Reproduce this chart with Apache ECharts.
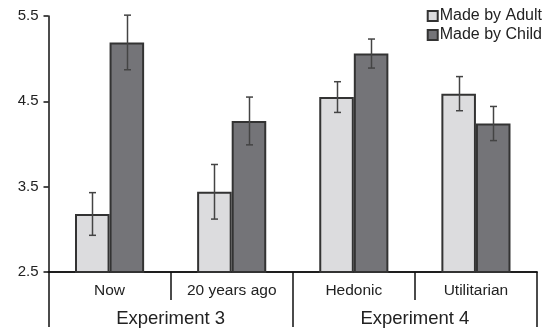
<!DOCTYPE html>
<html>
<head>
<meta charset="utf-8">
<script src="https://cdn.jsdelivr.net/npm/echarts@6/dist/echarts.min.js"></script>
<style>
html,body{margin:0;padding:0;background:#fff;}
#c{width:554px;height:330px;}
</style>
</head>
<body>
<div id="c"></div>
<script>
const categories = ['Now', '20 years ago', 'Hedonic', 'Utilitarian'];
const experiments = ['Experiment 3', 'Experiment 4'];
const adultMean = [3.18, 3.44, 4.55, 4.59];
const adultErr = [0.25, 0.32, 0.18, 0.20];
const childMean = [5.19, 4.27, 5.06, 4.24];
const childErr = [0.32, 0.28, 0.17, 0.20];
const yTicks = [2.5, 3.5, 4.5, 5.5];

const GAP = 0.434;
const FONT = '"Liberation Sans", Arial, Helvetica, sans-serif';

function errData(mean, err) {
  return mean.map((m, i) => [i, m, err[i]]);
}
function errRender(side) {
  return function (params, api) {
    const i = api.value(0), m = api.value(1), e = api.value(2);
    const band = api.size([1, 0])[0];
    const bw = band * (1 - GAP) / 2;
    const top = api.coord([i, m + e]);
    const bot = api.coord([i, m - e]);
    const x = Math.round(top[0] + side * bw / 2) + 0.5;
    const cap = 3.5;
    const st = { stroke: '#444', lineWidth: 1.5 };
    return {
      type: 'group',
      children: [
        { type: 'line', shape: { x1: x, y1: top[1], x2: x, y2: bot[1] }, style: st },
        { type: 'line', shape: { x1: x - cap, y1: top[1], x2: x + cap, y2: top[1] }, style: st },
        { type: 'line', shape: { x1: x - cap, y1: bot[1], x2: x + cap, y2: bot[1] }, style: st }
      ]
    };
  };
}

const chart = echarts.init(document.getElementById('c'), null, { renderer: 'canvas' });
chart.setOption({
  animation: false,
  textStyle: { fontFamily: FONT },
  grid: { left: 48.5, right: 17, top: 16, bottom: 58, containLabel: false },
  legend: {
    data: ['Made by Adult', 'Made by Child'],
    orient: 'vertical',
    right: 7,
    top: 3,
    itemWidth: 10,
    itemHeight: 10,
    itemGap: 3,
    icon: 'rect',
    textStyle: { fontSize: 16, color: '#222', fontFamily: FONT, padding: [0, 0, 0, -3] }
  },
  xAxis: [
    {
      type: 'category',
      data: categories,
      position: 'bottom',
      axisLine: { show: true, onZero: false, lineStyle: { color: '#111', width: 1.5 } },
      axisTick: { show: true, length: 28, lineStyle: { color: '#111', width: 1.5 } },
      axisLabel: { fontSize: 15.5, color: '#222', margin: 11, fontFamily: FONT },
      splitLine: { show: false }
    },
    {
      type: 'category',
      data: experiments,
      position: 'bottom',
      offset: 0,
      axisLine: { show: true, onZero: false, lineStyle: { color: '#111', width: 1.5 } },
      axisTick: { show: true, length: 55, lineStyle: { color: '#111', width: 1.5 } },
      axisLabel: { fontSize: 18.5, color: '#222', margin: 37, fontFamily: FONT },
      splitLine: { show: false }
    }
  ],
  yAxis: {
    type: 'value',
    min: 2.5,
    max: 5.5,
    axisLine: { show: true, onZero: false, lineStyle: { color: '#111', width: 1.5 } },
    axisTick: { show: true, length: 5, customValues: yTicks, lineStyle: { color: '#111', width: 1.5 } },
    axisLabel: { fontSize: 15, color: '#222', margin: 10, customValues: yTicks, fontFamily: FONT,
      formatter: v => v.toFixed(1) },
    splitLine: { show: false }
  },
  series: [
    {
      name: 'Made by Adult',
      type: 'bar',
      data: adultMean,
      barGap: '0%',
      barCategoryGap: (GAP * 100) + '%',
      itemStyle: { color: '#dcdcde', borderColor: '#333', borderWidth: 2 }
    },
    {
      name: 'Made by Child',
      type: 'bar',
      data: childMean,
      barGap: '0%',
      barCategoryGap: (GAP * 100) + '%',
      itemStyle: { color: '#747478', borderColor: '#333', borderWidth: 2 }
    },
    {
      name: 'errAdult',
      type: 'custom',
      data: errData(adultMean, adultErr),
      renderItem: errRender(-1),
      encode: { x: 0, y: [1] },
      z: 10
    },
    {
      name: 'errChild',
      type: 'custom',
      data: errData(childMean, childErr),
      renderItem: errRender(1),
      encode: { x: 0, y: [1] },
      z: 10
    }
  ]
});
</script>
</body>
</html>
